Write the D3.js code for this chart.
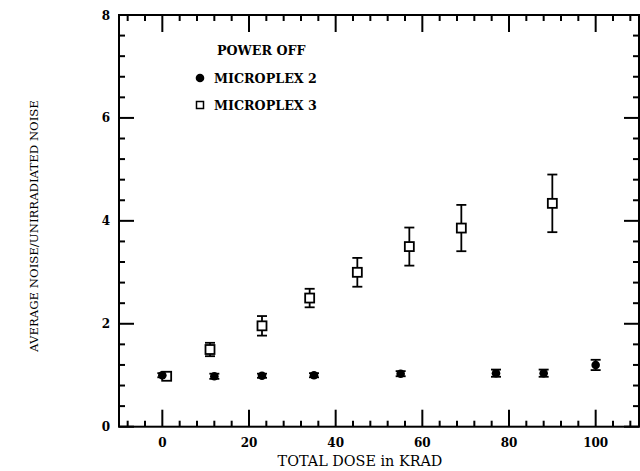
<!DOCTYPE html>
<html>
<head>
<meta charset="utf-8">
<title>Noise vs dose</title>
<script src="https://d3js.org/d3.v7.min.js"></script>
<style>
  body { margin: 0; background: #fff; }
  text { font-family: "DejaVu Serif", "Liberation Serif", serif; fill: #000; }
</style>
</head>
<body>
<script>
// Microplex 2 (filled circles)
var dose2  = [0, 12, 23, 35, 55, 77, 88, 100];
var noise2 = [1.0, 0.98, 0.99, 1.0, 1.03, 1.04, 1.04, 1.2];
var err2   = [0.04, 0.05, 0.04, 0.04, 0.05, 0.07, 0.07, 0.1];

// Microplex 3 (open squares)
var dose3  = [1, 11, 23, 34, 45, 57, 69, 90];
var noise3 = [0.98, 1.5, 1.96, 2.5, 3.0, 3.5, 3.86, 4.34];
var err3   = [0.04, 0.13, 0.19, 0.18, 0.28, 0.37, 0.45, 0.56];

var xMajor = [0, 20, 40, 60, 80, 100];
var yMajor = [0, 2, 4, 6, 8];

var W = 640, H = 471;
var svg = d3.select("body").append("svg").attr("width", W).attr("height", H);

var x = d3.scaleLinear().domain([-10, 110]).range([119, 639]);
var y = d3.scaleLinear().domain([0, 8]).range([426.7, 15]);

var xMinor = d3.range(-8, 110, 4).filter(function (d) { return d % 20 !== 0; });
var yMinor = d3.range(1, 20).map(function (i) { return i * 0.4; })
  .filter(function (d, i) { return (i + 1) % 5 !== 0; });

// fit a text element to a target width by changing its font size
function fit(t, width) {
  var fs = parseFloat(t.style("font-size"));
  var w = t.node().getComputedTextLength();
  t.style("font-size", (fs * width / w).toFixed(2) + "px");
  return t;
}

// frame
svg.append("rect")
  .attr("x", x(-10)).attr("y", y(8))
  .attr("width", x(110) - x(-10)).attr("height", y(0) - y(8))
  .attr("fill", "none").attr("stroke", "#000").attr("stroke-width", 2);

// ticks, all pointing inward
var tg = svg.append("g").attr("stroke", "#000").attr("stroke-width", 2);
function xTicks(vals, len) {
  vals.forEach(function (v) {
    tg.append("line").attr("x1", x(v)).attr("x2", x(v)).attr("y1", y(0)).attr("y2", y(0) - len);
    tg.append("line").attr("x1", x(v)).attr("x2", x(v)).attr("y1", y(8)).attr("y2", y(8) + len);
  });
}
function yTicks(vals, len) {
  vals.forEach(function (v) {
    tg.append("line").attr("x1", x(-10)).attr("x2", x(-10) + len).attr("y1", y(v)).attr("y2", y(v));
    tg.append("line").attr("x1", x(110)).attr("x2", x(110) - len).attr("y1", y(v)).attr("y2", y(v));
  });
}
xTicks(xMajor, 17);
xTicks(xMinor, 6);
yTicks(yMajor, 15);
yTicks(yMinor, 6);

// tick labels
svg.append("g").selectAll("text").data(xMajor).enter().append("text")
  .attr("x", function (d) { return x(d); }).attr("y", y(0) + 20)
  .attr("text-anchor", "middle")
  .style("font-size", "12px").style("font-weight", "bold")
  .text(function (d) { return d; });
svg.append("g").selectAll("text").data(yMajor).enter().append("text")
  .attr("x", x(-10) - 9).attr("y", function (d) { return y(d) + 4.5; })
  .attr("text-anchor", "end")
  .style("font-size", "12px").style("font-weight", "bold")
  .text(function (d) { return d; });

// error bars
function errorBars(xs, ys, es) {
  var g = svg.append("g").attr("stroke", "#000").attr("stroke-width", 1.8);
  xs.forEach(function (d, i) {
    var cx = x(d), top = y(ys[i] + es[i]), bot = y(ys[i] - es[i]);
    g.append("line").attr("x1", cx).attr("x2", cx).attr("y1", top).attr("y2", bot);
    g.append("line").attr("x1", cx - 5).attr("x2", cx + 5).attr("y1", top).attr("y2", top);
    g.append("line").attr("x1", cx - 5).attr("x2", cx + 5).attr("y1", bot).attr("y2", bot);
  });
}
errorBars(dose3, noise3, err3);
errorBars(dose2, noise2, err2);

// squares
svg.append("g").selectAll("rect").data(dose3).enter().append("rect")
  .attr("x", function (d) { return x(d) - 4.5; })
  .attr("y", function (d, i) { return y(noise3[i]) - 4.5; })
  .attr("width", 9).attr("height", 9)
  .attr("fill", "#fff").attr("stroke", "#000").attr("stroke-width", 1.8);

// circles
svg.append("g").selectAll("circle").data(dose2).enter().append("circle")
  .attr("cx", function (d) { return x(d); })
  .attr("cy", function (d, i) { return y(noise2[i]); })
  .attr("r", 4.3).attr("fill", "#000");

// legend
var lg = svg.append("g").style("font-weight", "bold");
var t1 = lg.append("text").attr("x", 217).attr("y", 55).style("font-size", "13px").text("POWER OFF");
var t2 = lg.append("text").attr("x", 214).attr("y", 83).style("font-size", "13px").text("MICROPLEX 2");
fit(t2, 103);
t1.style("font-size", t2.style("font-size"));
lg.append("text").attr("x", 214).attr("y", 110).style("font-size", t2.style("font-size")).text("MICROPLEX 3");
lg.append("circle").attr("cx", 200).attr("cy", 78).attr("r", 4.3).attr("fill", "#000");
lg.append("rect").attr("x", 196.5).attr("y", 101.5).attr("width", 7).attr("height", 7)
  .attr("fill", "#fff").attr("stroke", "#000").attr("stroke-width", 1.5);

// axis titles
fit(svg.append("text").attr("x", 360).attr("y", 466).attr("text-anchor", "middle")
  .style("font-size", "12px").text("TOTAL DOSE in KRAD"), 165);
fit(svg.append("text")
  .attr("transform", "translate(38,226) rotate(-90)")
  .attr("text-anchor", "middle")
  .style("font-size", "12px").text("AVERAGE NOISE/UNIRRADIATED NOISE"), 252);
</script>
</body>
</html>
